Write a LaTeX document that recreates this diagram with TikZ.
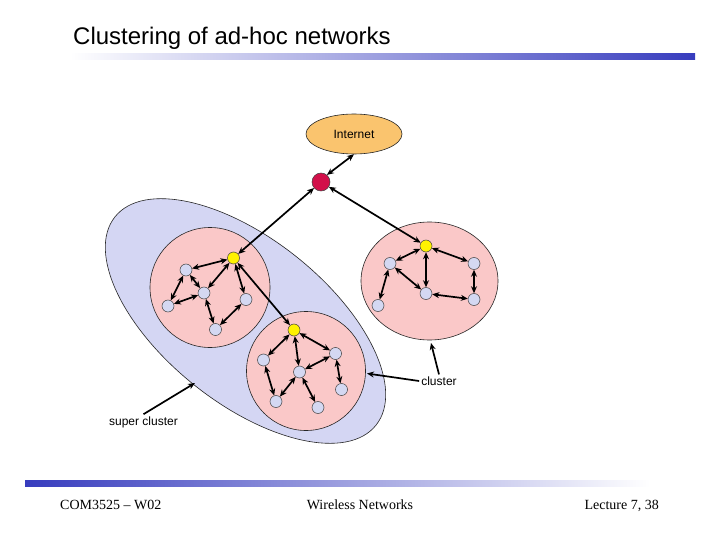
\documentclass[tikz,border=0pt]{standalone}
\usepackage{fontspec}
\setmainfont{Liberation Sans}
\newfontfamily\footfont{Liberation Serif}
\usetikzlibrary{arrows.meta,shapes.geometric}
\definecolor{superc}{RGB}{212,214,243}
\definecolor{clus}{RGB}{250,200,200}
\definecolor{gnode}{RGB}{212,216,242}
\definecolor{rednode}{RGB}{210,16,74}
\definecolor{inetc}{RGB}{250,196,110}
\definecolor{barblue}{RGB}{55,60,190}
\begin{document}
\begin{tikzpicture}[x=1pt,y=-1pt,
  gn/.style={circle,draw=black!75,line width=0.5pt,fill=gnode,minimum size=12pt,inner sep=0pt},
  yn/.style={gn,fill=yellow},
  clusterbox/.style={draw=black!85,line width=0.6pt,fill=clus,inner sep=0pt},
  link/.style={line width=1.7pt,{Stealth[length=7pt,width=6pt]}-{Stealth[length=7pt,width=6pt]}},
  ptr/.style={line width=1.7pt,-{Stealth[length=7pt,width=6pt]}},
  lbl/.style={font=\fontsize{12}{14}\selectfont,inner sep=2pt}]
\useasboundingbox (0,0) rectangle (720,540);
\fill[white] (0,0) rectangle (720,540);
% title and bars
\node[anchor=base west,inner sep=0pt,font=\fontsize{24}{28}\selectfont] (title) at (73,45) {Clustering of ad-hoc networks};
\shade[left color=white,right color=barblue] (70,54) rectangle (695,60);
\shade[left color=barblue,right color=white] (25,480) rectangle (650,486);
\node[anchor=base west,inner sep=0pt,font=\footfont\fontsize{14}{16}\selectfont] (f1) at (60,509) {COM3525 – W02};
\node[anchor=base,inner sep=0pt,font=\footfont\fontsize{14}{16}\selectfont] (f2) at (360,509) {Wireless Networks};
\node[anchor=base east,inner sep=0pt,font=\footfont\fontsize{14}{16}\selectfont] (f3) at (659,509) {Lecture 7, 38};
% super cluster
\node[ellipse,draw=black!85,line width=0.6pt,fill=superc,minimum width=334pt,minimum height=164pt,rotate=-38.6,inner sep=0pt] (sc) at (245.5,321) {};
% clusters
\node[circle,clusterbox,minimum size=120pt] (c1) at (210,287.5) {};
\node[ellipse,clusterbox,minimum width=137pt,minimum height=118pt] (c2) at (429.5,281) {};
\node[circle,clusterbox,minimum size=119pt] (c3) at (306,371) {};
% internet and gateway
\node[ellipse,draw=black!85,line width=0.6pt,fill=inetc,minimum width=96pt,minimum height=40pt,inner sep=0pt,font=\fontsize{12}{14}\selectfont] (inet) at (354,134) {Internet};
\node[circle,draw=black!75,line width=0.5pt,fill=rednode,minimum size=18pt,inner sep=0pt] (r) at (321,182) {};
% cluster 1
\node[yn] (h1) at (233.5,258) {};
\node[gn] (a) at (186,270) {};
\node[gn] (b) at (204,293) {};
\node[gn] (c) at (168,306) {};
\node[gn] (d) at (246,299.5) {};
\node[gn] (e) at (215.5,329.5) {};
% cluster 2
\node[yn] (h2) at (426,246) {};
\node[gn] (f) at (390,263.5) {};
\node[gn] (g) at (426,293.5) {};
\node[gn] (h) at (474,263.5) {};
\node[gn] (i) at (474,299.5) {};
\node[gn] (j) at (378,305.5) {};
% cluster 3
\node[yn] (h3) at (294,330) {};
\node[gn] (k) at (263.5,360) {};
\node[gn] (l) at (299.5,372) {};
\node[gn] (m) at (335.5,353.5) {};
\node[gn] (n) at (341.5,389.5) {};
\node[gn] (o) at (276,401.5) {};
\node[gn] (p) at (318,407.5) {};
% backbone links
\draw[link] (r.50) -- (inet.south);
\draw[link] (r) -- (h1);
\draw[link] (r) -- (h2);
\draw[link] (h1) -- (h3);
% cluster 1 links
\draw[link] (h1) -- (a);
\draw[link] (h1) -- (b);
\draw[link] (h1) -- (d);
\draw[link] (a) -- (b);
\draw[link] (a) -- (c);
\draw[link] (c) -- (b);
\draw[link] (b) -- (e);
\draw[link] (e) -- (d);
% cluster 2 links
\draw[link] (h2) -- (f);
\draw[link] (h2) -- (g);
\draw[link] (h2) -- (h);
\draw[link] (f) -- (g);
\draw[link] (f) -- (j);
\draw[link] (g) -- (i);
\draw[link] (h) -- (i);
% cluster 3 links
\draw[link] (h3) -- (k);
\draw[link] (h3) -- (l);
\draw[link] (h3) -- (m);
\draw[link] (m) -- (l);
\draw[link] (m) -- (n);
\draw[link] (k) -- (o);
\draw[link] (l) -- (o);
\draw[link] (l) -- (p);
% labels
\node[lbl] (lcl) at (439,381) {cluster};
\coordinate (cl2) at (431,343);
\coordinate (cl3) at (367,373.5);
\draw[ptr] (lcl.north) -- (cl2);
\draw[ptr] (lcl.west) -- (cl3);
\node[lbl] (lsc) at (143.5,422) {super cluster};
\coordinate (scb) at (195,383);
\draw[ptr] (lsc.north) -- (scb);
\end{tikzpicture}
\end{document}
